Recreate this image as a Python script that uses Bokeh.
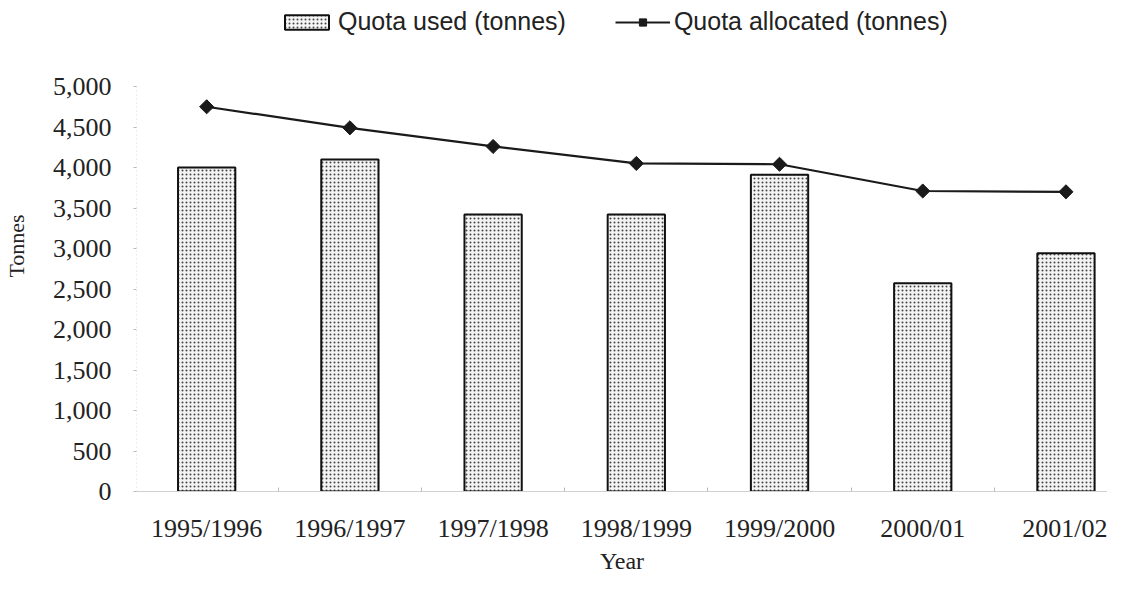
from math import pi
from bokeh.plotting import figure
from bokeh.models import (ColumnDataSource, FixedTicker, Legend, LegendItem,
                          Range1d, NumeralTickFormatter)
from bokeh.embed import file_html
from bokeh.resources import INLINE

# ---- data ----
years = ["1995/1996", "1996/1997", "1997/1998", "1998/1999", "1999/2000", "2000/01", "2001/02"]
quota_used = [4000, 4100, 3420, 3420, 3910, 2570, 2940]
quota_allocated = [4750, 4490, 4260, 4050, 4040, 3710, 3700]
y_ticks = [0, 500, 1000, 1500, 2000, 2500, 3000, 3500, 4000, 4500, 5000]

idx = list(range(len(years)))
src = ColumnDataSource(dict(x=idx, year=years, used=quota_used, alloc=quota_allocated))

SERIF = "Liberation Serif"
SANS = "Liberation Sans"

# the frame reaches the top of the canvas so that the legend (drawn inside it)
# sits above the 0-5,000 axis, as in the reference
p = figure(width=1107, height=576, output_backend="svg", toolbar_location=None,
           x_range=Range1d(-0.49, 6.29), y_range=Range1d(0, 6062),
           min_border_left=120, min_border_right=0, min_border_top=0,
           min_border_bottom=60, background_fill_color="white",
           border_fill_color="white")
p.outline_line_color = None
p.grid.visible = False

bars = p.vbar(x="x", top="used", width=0.40, source=src,
              fill_color="#f4f4f4", line_color="#111111", line_width=2,
              hatch_pattern="dot", hatch_scale=4, hatch_color="#444444",
              hatch_weight=1.2)

ln = p.line(x="x", y="alloc", source=src, line_color="#1a1a1a", line_width=2.2)
mk = p.scatter(x="x", y="alloc", source=src, marker="square", angle=pi / 4,
               size=10, fill_color="#1a1a1a", line_color="#1a1a1a")

# y axis
ya = p.yaxis[0]
ya.bounds = (y_ticks[0], y_ticks[-1])
ya.ticker = FixedTicker(ticks=y_ticks)
ya.formatter = NumeralTickFormatter(format="0,0")
ya.axis_label = "Tonnes"
ya.axis_label_text_font = SERIF
ya.axis_label_text_font_size = "22px"
ya.axis_label_text_font_style = "normal"
ya.axis_label_text_color = "#222222"
ya.axis_label_standoff = 21
ya.major_label_text_font = SERIF
ya.major_label_text_font_size = "26px"
ya.major_label_text_color = "#222222"
ya.major_label_standoff = 22
ya.major_tick_out = 3
ya.major_tick_in = 0
ya.major_tick_line_color = "#bbbbbb"
ya.minor_tick_line_color = None
ya.minor_tick_out = 0
ya.minor_tick_in = 0
ya.axis_line_color = "#dddddd"
ya.axis_line_dash = "1 3"

# x axis
xa = p.xaxis[0]
xa.ticker = FixedTicker(ticks=idx, minor_ticks=[i + 0.5 for i in idx[:-1]])
xa.major_label_overrides = {i: y for i, y in zip(idx, years)}
xa.axis_label = "Year"
xa.axis_label_text_font = SERIF
xa.axis_label_text_font_size = "24px"
xa.axis_label_text_font_style = "normal"
xa.axis_label_text_color = "#222222"
xa.axis_label_standoff = 2
xa.major_label_text_font = SERIF
xa.major_label_text_font_size = "26px"
xa.major_label_text_color = "#222222"
xa.major_label_standoff = 22
xa.major_tick_line_color = None
xa.major_tick_out = 0
xa.major_tick_in = 0
xa.minor_tick_out = 0
xa.minor_tick_in = 4
xa.minor_tick_line_color = "#bbbbbb"
xa.axis_line_color = "#d0d0d0"

legend = Legend(items=[LegendItem(label="Quota used (tonnes)", renderers=[bars]),
                       LegendItem(label="Quota allocated (tonnes)", renderers=[ln, mk])],
                orientation="horizontal", location=(143, 455),
                label_text_font=SANS, label_text_font_size="25px",
                label_text_color="#222222",
                glyph_width=55, glyph_height=18, label_standoff=4, spacing=49,
                padding=0, margin=0, border_line_color=None,
                background_fill_alpha=0)
p.add_layout(legend, "center")

open("out.html", "w").write(file_html(p, INLINE))
